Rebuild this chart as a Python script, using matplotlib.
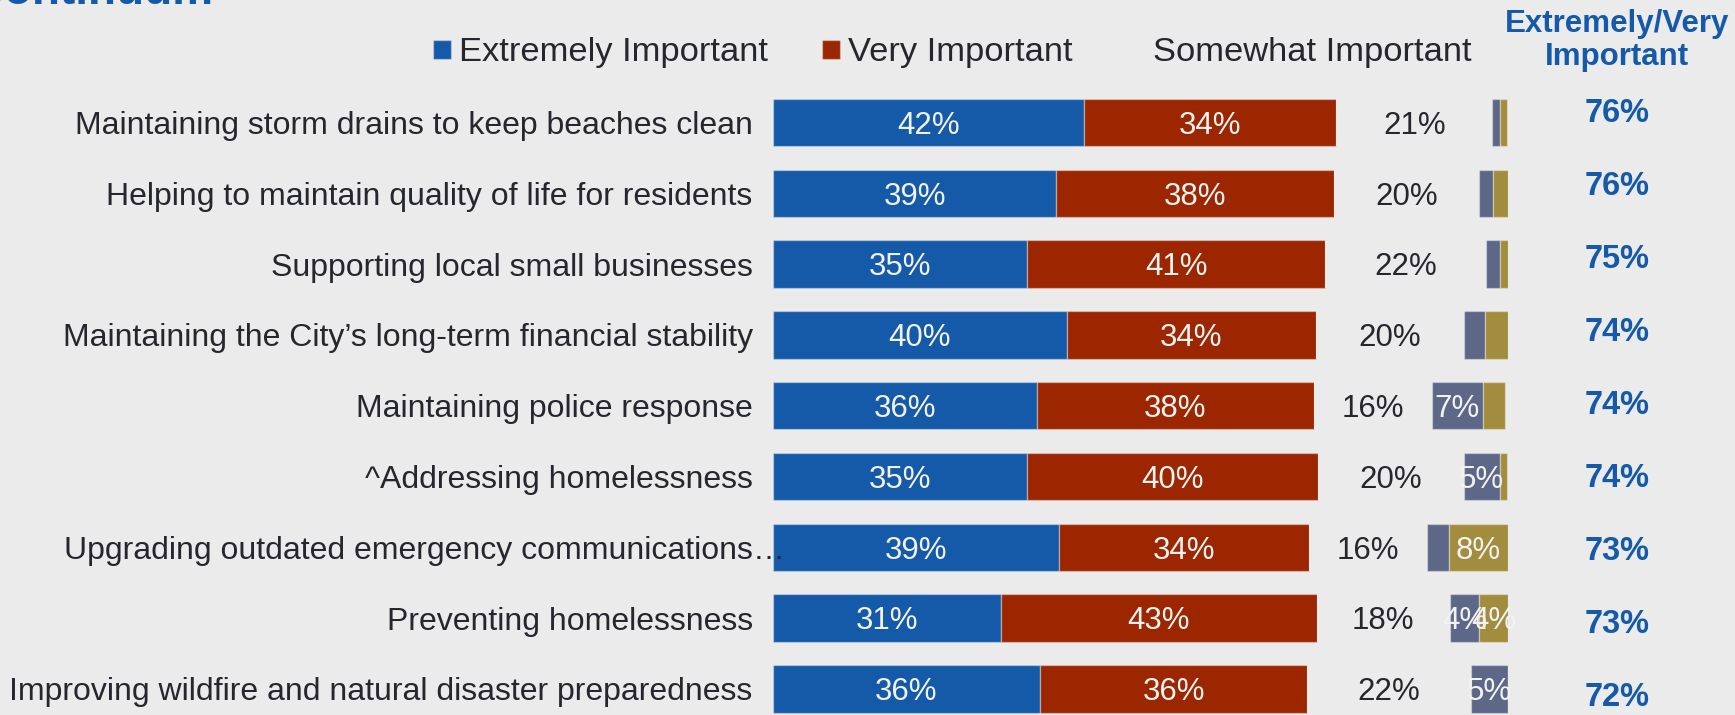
import matplotlib.pyplot as plt
import numpy as np

plt.rcParams['font.family'] = ['Liberation Sans', 'DejaVu Sans']

# data (percent of respondents)
items = [
    "Maintaining storm drains to keep beaches clean",
    "Helping to maintain quality of life for residents",
    "Supporting local small businesses",
    "Maintaining the City\u2019s long-term financial stability",
    "Maintaining police response",
    "^Addressing homelessness",
    "Upgrading outdated emergency communications",
    "Preventing homelessness",
    "Improving wildfire and natural disaster preparedness",
]
truncated = [False, False, False, False, False, False, True, False, False]
extremely = [42.4, 38.6, 34.6, 40.0, 36.0, 34.6, 39.0, 31.0, 36.4]
very = [34.3, 37.7, 40.6, 33.9, 37.6, 39.6, 34.0, 43.0, 36.3]
somewhat = [21.2, 19.8, 21.8, 20.1, 16.1, 19.8, 16.0, 18.1, 22.3]
not_too = [1.0, 1.95, 1.95, 2.9, 6.9, 4.9, 3.0, 4.0, 5.0]
not_at_all = [1.05, 2.0, 1.05, 3.1, 3.1, 1.05, 8.0, 4.0, 0.0]
top2 = [76, 76, 75, 74, 74, 74, 73, 73, 72]

BG = '#EBEBEB'
BLUE = '#155AA8'
RED = '#9B2600'
SLATE = '#5D6787'
OLIVE = '#A28C3D'
DARK = '#26262E'
LIGHT = '#F2F2F2'

W, H = 1735, 715
PX_UNIT = 70.8  # pixels per row

fig = plt.figure(figsize=(W / 100, H / 100), dpi=100, facecolor=BG)
ax = fig.add_axes([772.7 / W, 0, 735 / W, 1 - 87.1 / H])
ax.set_facecolor(BG)
ax.set_xlim(0, 100)
ax.set_ylim(8 + (H - 689) / PX_UNIT, -0.5)
ax.axis('off')

y = np.arange(len(items))
edge = (1, 1, 1, 0.35)
series = [
    (extremely, BLUE, edge, 'Extremely Important', LIGHT, 0),
    (very, RED, edge, 'Very Important', LIGHT, 0),
    (somewhat, BG, 'none', 'Somewhat Important', DARK, 0),
    (not_too, SLATE, edge, '_nolegend_', LIGHT, 4),
    (not_at_all, OLIVE, edge, '_nolegend_', LIGHT, 4),
]


def cap_off(fs):
    # half cap height in row units, to centre digits on the bar
    return fs * 100 / 72 * 0.716 / 2 / PX_UNIT


fs_lab = 22.5
left = np.zeros(len(items))
handles = []
for vals, col, ec, name, tcol, minlab in series:
    vals = np.array(vals)
    b = ax.barh(y, vals, left=left, height=0.67, color=col, edgecolor=ec,
                linewidth=1, label=name, zorder=2)
    handles.append(b)
    for i, v in enumerate(vals):
        r = int(round(v))
        if r > 0 and r >= minlab:
            ax.text(left[i] + v / 2, y[i] + cap_off(fs_lab), f"{r}%",
                    ha='center', va='baseline', color=tcol, fontsize=fs_lab,
                    zorder=3, clip_on=False)
    left += vals

# category labels
fs_cat = 23
xoff = -20 / 7.35
for i, lab in enumerate(items):
    ax.text(xoff, y[i] + cap_off(fs_cat), lab, ha='right', va='baseline',
            color=DARK, fontsize=fs_cat, clip_on=False)
    if truncated[i]:
        ax.text(xoff, y[i] + cap_off(fs_cat), "\u2026", ha='left', va='baseline',
                color=DARK, fontsize=fs_cat, clip_on=False, zorder=5)

# legend
fs_leg = 24.8
em = fs_leg * 100 / 72
fig.legend(handles=handles[:3], loc='center left',
           bbox_to_anchor=(433 / W, 1 - 53 / H), ncol=3, frameon=False,
           fontsize=fs_leg, labelcolor=DARK, handlelength=18 / em,
           handleheight=17 / em, handletextpad=8 / em, columnspacing=54 / em,
           borderpad=0, borderaxespad=0)

# extremely/very column
xc = 1617 / W
fig.text(xc, 1 - 32 / H, "Extremely/Very", ha='center', va='baseline',
         color=BLUE, fontsize=22.5, fontweight='bold')
fig.text(xc, 1 - 65 / H, "Important", ha='center', va='baseline',
         color=BLUE, fontsize=22.5, fontweight='bold')
for i, v in enumerate(top2):
    base = 110 + 73 * i + 23.5 * 100 / 72 * 0.716 / 2
    fig.text(xc, 1 - base / H, f"{v}%", ha='center', va='baseline',
             color=BLUE, fontsize=23.5, fontweight='bold')

# title, mostly cut off at the top edge
fig.text(213 / W, 1 - 4 / H, "Continuum", ha='right', va='baseline',
         color=BLUE, fontsize=33, fontweight='bold')

fig.savefig('out.png', dpi=100, facecolor=BG)
